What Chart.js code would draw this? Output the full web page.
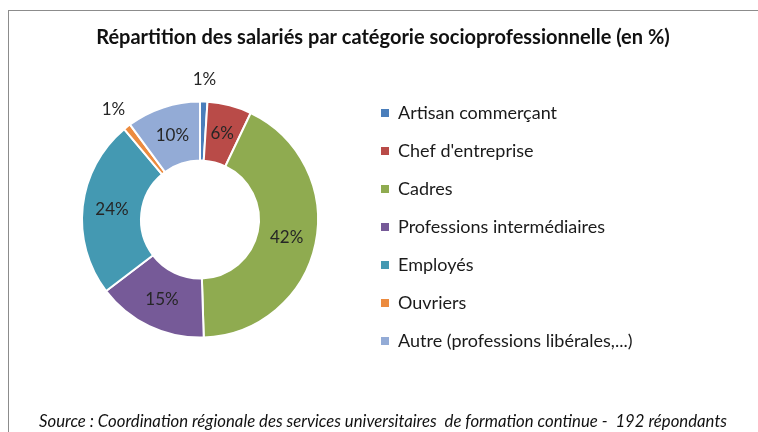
<!DOCTYPE html>
<html>
<head>
<meta charset="utf-8">
<script src="https://cdn.jsdelivr.net/npm/chart.js@4"></script>
<style>
  html, body { margin: 0; padding: 0; background: #fff; overflow: hidden; }
  #wrap { position: relative; width: 758px; height: 432px; }
  #frame { position: absolute; left: 8px; top: 10px; width: 780px; height: 440px; border: 1px solid #8c8c8c; }
  canvas { position: absolute; left: 0; top: 0; }
</style>
</head>
<body>
<div id="wrap">
  <div id="frame"></div>
  <canvas id="chart" width="758" height="432"></canvas>
</div>
<script>
// Categories and shares (%)
const categories = [
    'Artisan commerçant',
    "Chef d'entreprise",
    'Cadres',
    'Professions intermédiaires',
    'Employés',
    'Ouvriers',
    'Autre (professions libérales,...)'
];
const shares = [1, 6, 42, 15, 24, 1, 10];
const sliceColors = ['#4a7ebb', '#b94b48', '#8fab50', '#765a98', '#4499b2', '#ec8b3f', '#93abd6'];

const chartTitle = 'Répartition des salariés par catégorie socioprofessionnelle (en %)';
const sourceNote = 'Source : Coordination régionale des services universitaires  de formation continue -  192 répondants';

const FONT = 'Lato, "Open Sans", sans-serif';
const TEXT_COLOR = '#1a1a1a';

// Draws the percentage labels on (or just outside) each slice
const sliceLabels = {
    id: 'sliceLabels',
    afterDatasetsDraw(chart) {
        const ctx = chart.ctx;
        const meta = chart.getDatasetMeta(0);
        ctx.save();
        ctx.font = '17px ' + FONT;
        ctx.fillStyle = '#262626';
        ctx.textAlign = 'center';
        ctx.textBaseline = 'middle';
        meta.data.forEach((arc, i) => {
            const p = arc.getProps(['x', 'y', 'startAngle', 'endAngle', 'innerRadius', 'outerRadius'], true);
            const mid = (p.startAngle + p.endAngle) / 2;
            const small = shares[i] < 3;
            const r = small ? p.outerRadius + 22 : (p.innerRadius + p.outerRadius) / 2;
            const x = p.x + Math.cos(mid) * r;
            const y = p.y + Math.sin(mid) * r;
            ctx.fillText(shares[i] + '%', x, y);
        });
        ctx.restore();
    }
};

// Gives the legend a fixed width so the title stays centred on the page
const legendWidth = {
    id: 'legendWidth',
    beforeInit(chart) {
        const fit = chart.legend.fit;
        chart.legend.fit = function () {
            fit.call(this);
            this.width = 366;
        };
    }
};

const ctx = document.getElementById('chart').getContext('2d');
new Chart(ctx, {
    type: 'doughnut',
    data: {
        labels: categories,
        datasets: [{
            data: shares,
            backgroundColor: sliceColors,
            borderColor: '#ffffff',
            borderWidth: 2
        }]
    },
    options: {
        responsive: false,
        animation: false,
        devicePixelRatio: 1,
        cutout: '50%',
        radius: 118,
        layout: { padding: { left: 39, right: 31 } },
        plugins: {
            title: {
                display: true,
                text: chartTitle,
                color: '#111',
                font: { family: FONT, size: 20, weight: 'bold' },
                padding: { top: 26, bottom: 20 }
            },
            subtitle: {
                display: true,
                position: 'bottom',
                text: sourceNote,
                color: '#111',
                font: { family: FONT, size: 17.4, style: 'italic' },
                padding: { top: 42, bottom: 0 }
            },
            legend: {
                position: 'right',
                title: { display: true, text: '', font: { size: 10 }, padding: 5 },
                labels: {
                    boxWidth: 8,
                    boxHeight: 8,
                    padding: 20,
                    color: TEXT_COLOR,
                    font: { family: FONT, size: 18 },
                    generateLabels(chart) {
                        return chart.data.labels.map((label, i) => ({
                            text: label,
                            fillStyle: sliceColors[i],
                            strokeStyle: sliceColors[i],
                            fontColor: TEXT_COLOR,
                            lineWidth: 0,
                            index: i
                        }));
                    }
                }
            },
            tooltip: { enabled: false }
        }
    },
    plugins: [sliceLabels, legendWidth]
});
</script>
</body>
</html>
